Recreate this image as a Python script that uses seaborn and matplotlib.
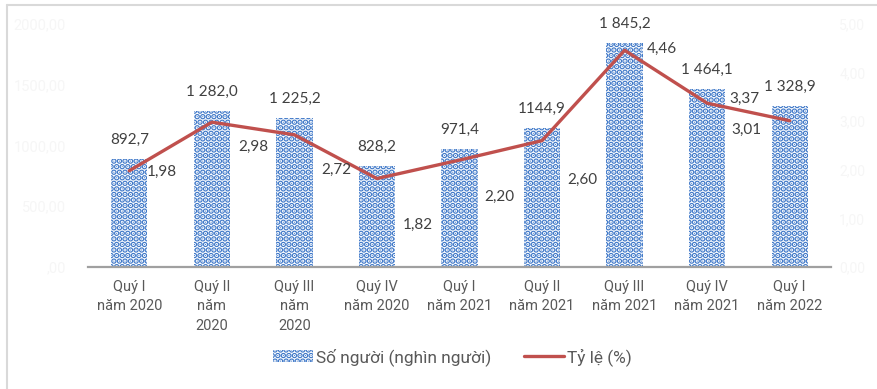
import matplotlib
matplotlib.use("Agg")
import matplotlib.pyplot as plt
import seaborn as sns
import numpy as np
import pandas as pd
from matplotlib.lines import Line2D
from matplotlib.patches import Patch

# Quarterly figures
quarters = [
    "Quý I\nnăm 2020", "Quý II\nnăm\n2020", "Quý III\nnăm\n2020",
    "Quý IV\nnăm 2020", "Quý I\nnăm 2021", "Quý II\nnăm 2021",
    "Quý III\nnăm 2021", "Quý IV\nnăm 2021", "Quý I\nnăm 2022",
]
people_labels = ["892,7", "1 282,0", "1 225,2", "828,2", "971,4",
                 "1144,9", "1 845,2", "1 464,1", "1 328,9"]
rate_labels = ["1,98", "2,98", "2,72", "1,82", "2,20",
               "2,60", "4,46", "3,37", "3,01"]

left_ticks = [0, 500, 1000, 1500, 2000]
left_tick_labels = [",00", "500,00", "1000,00", "1500,00", "2000,00"]
right_ticks = [0, 1, 2, 3, 4, 5]
right_tick_labels = ["0,00", "1,00", "2,00", "3,00", "4,00", "5,00"]

series_names = ["Số người (nghìn người)", "Tỷ lệ (%)"]


def to_number(s):
    return float(s.replace(" ", "").replace(",", "."))


people = [to_number(s) for s in people_labels]
rates = [to_number(s) for s in rate_labels]

# label offsets (pixels) for the rate labels relative to their points
rate_offsets = [(33, 1), (42, 25), (42, 35), (41, 46), (40, 37),
                (40, 39), (37, -1), (37, -4), (-43, 9)]

BAR_BLUE = "#3F78C8"
LINE_RED = "#C0504D"
TEXT = "#404040"
TICK = "#595959"
FAINT = "#f6f6f6"

sns.set_style("white")
plt.rcParams["font.family"] = ["Roboto", "DejaVu Sans"]
plt.rcParams["hatch.linewidth"] = 3.0

fig = plt.figure(figsize=(8.77, 3.89), dpi=100)
ax = fig.add_axes([88 / 877, 1 - 267 / 389, (831 - 88) / 877, (267 - 24) / 389])

df = pd.DataFrame({"quarter": quarters, "people": people})
sns.barplot(data=df, x="quarter", y="people", ax=ax, width=0.44,
            color="white", saturation=1, edgecolor=BAR_BLUE, linewidth=0,
            hatch="...")

ax2 = ax.twinx()
sns.lineplot(x=np.arange(len(rates)), y=rates, ax=ax2, color=LINE_RED,
             linewidth=2.4, sort=False)

ax.set_xlim(-0.5, len(quarters) - 0.5)
ax.set_ylim(0, 2000)
ax2.set_ylim(0, 5)

ax.set_yticks(left_ticks)
ax.set_yticklabels(left_tick_labels, color=FAINT, fontsize=10.5)
ax2.set_yticks(right_ticks)
ax2.set_yticklabels(right_tick_labels, color=FAINT, fontsize=10)
ax.tick_params(axis="y", length=0, pad=16)
ax2.tick_params(axis="y", length=0, pad=6)

ax.set_xlabel("")
ax.set_ylabel("")
ax.tick_params(axis="x", length=0, pad=9, labelsize=10.5, labelcolor=TICK)
for lbl in ax.get_xticklabels():
    lbl.set_linespacing(1.5)

for a in (ax, ax2):
    for side in ("top", "left", "right", "bottom"):
        a.spines[side].set_visible(False)
ax.spines["bottom"].set_visible(True)
ax.spines["bottom"].set_color("#a0a0a0")
ax.spines["bottom"].set_linewidth(1.6)

px = 0.72  # points per pixel at 100 dpi

for i, (v, s) in enumerate(zip(people, people_labels)):
    ax.annotate(s, (i, v), xytext=(0, 19 * px), textcoords="offset points",
                ha="center", va="center", fontsize=11, color=TEXT,
                family=["Lato", "DejaVu Sans"])

for i, (v, s) in enumerate(zip(rates, rate_labels)):
    dx, dy = rate_offsets[i]
    ax2.annotate(s, (i, v), xytext=(dx * px, -dy * px), textcoords="offset points",
                 ha="center", va="center", fontsize=11, color=TEXT,
                 family=["Lato", "DejaVu Sans"])

handles = [
    Patch(facecolor="white", edgecolor=BAR_BLUE, linewidth=0, hatch="..."),
    Line2D([0], [0], color=LINE_RED, linewidth=2.4),
]
fig.legend(handles, series_names, loc="center", bbox_to_anchor=(0.516, 0.082),
           ncol=2, frameon=False, fontsize=12.4, labelcolor=TICK,
           handlelength=2.3, handleheight=0.7, handletextpad=0.2,
           columnspacing=1.9)

# frame lines along the top and left edges
fig.add_artist(Line2D([7 / 877, 7 / 877], [0, 1 - 5 / 389], color="#d9d9d9",
                      linewidth=1.5, transform=fig.transFigure))
fig.add_artist(Line2D([7 / 877, 1], [1 - 5 / 389, 1 - 5 / 389], color="#d9d9d9",
                      linewidth=1.5, transform=fig.transFigure))

fig.savefig("out.png", dpi=100)
